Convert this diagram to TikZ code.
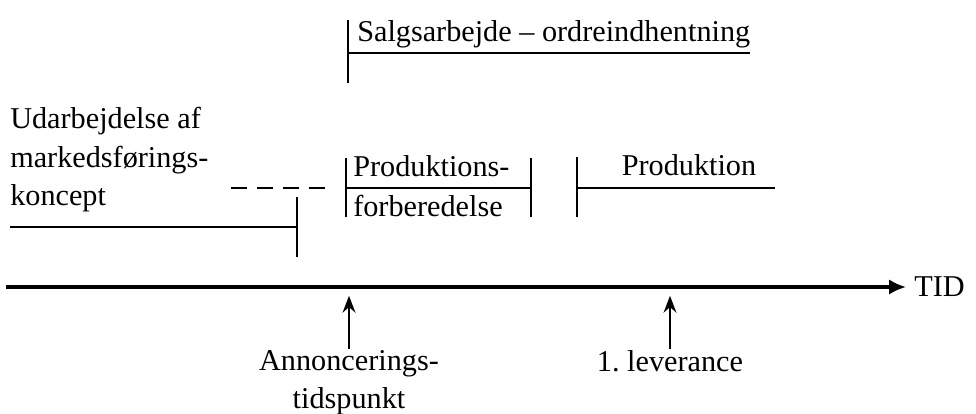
\documentclass[tikz,border=0pt]{standalone}
\usepackage{fontspec}
\setmainfont{Liberation Serif}
\usetikzlibrary{arrows.meta,positioning}
\begin{document}
\begin{tikzpicture}[x=0.025cm,y=-0.025cm,lbl/.style={inner sep=0pt,font=\fontsize{21.5}{27.5}\selectfont},bar/.style={line width=1.6pt},axis/.style={line width=2.2pt,-{Latex[length=4.2mm,width=3.8mm]}},up/.style={line width=1.4pt,-{Stealth[length=4.2mm,width=3.2mm]},shorten >=2.2mm}]
\useasboundingbox[fill=white] (0,0) rectangle (976,414);
\node[lbl,anchor=base west] (S) at (357,41) {Salgsarbejde -- ordreindhentning};
\node[lbl,anchor=north west,align=left] (U) at (10,107) {Udarbejdelse af\\markedsførings-\\koncept};
\node[lbl,anchor=north west,align=left] (P) at (353,155) {Produktions-\\[1pt]forberedelse};
\node[lbl,anchor=base] (Q) at (689,175) {Produktion};
\coordinate (T0) at (6,287); \coordinate (T1) at (906,287);
\node[lbl,right=2mm of T1] (TID) {TID};
\node[lbl,anchor=north,align=center] (A) at (349,350) {Annoncerings-\\tidspunkt};
\node[lbl,anchor=north] (L) at (670,350) {1.\ leverance};
\coordinate (S1) at (348,20); \coordinate (S2) at (348,83); \coordinate (S3) at (348,53); \coordinate (S4) at (750,53);
\coordinate (U1) at (10,227); \coordinate (U2) at (297,227); \coordinate (U3) at (297,197); \coordinate (U4) at (297,257);
\coordinate (D1) at (231,188); \coordinate (D2) at (326,188);
\coordinate (P1) at (346,158); \coordinate (P2) at (346,217); \coordinate (P3) at (531,158); \coordinate (P4) at (531,217);
\coordinate (Q1) at (577,157); \coordinate (Q2) at (577,217); \coordinate (Q3) at (775,188);
\draw[bar] (S1)--(S2); \draw[bar] (S3)--(S4);
\draw[bar] (U1)--(U2); \draw[bar] (U3)--(U4);
\draw[bar,dash pattern=on 11.4pt off 7.1pt] (D1)--(D2);
\draw[bar] (P1)--(P2); \draw[bar] (P1|-D1)--(P3|-D1); \draw[bar] (P3)--(P4);
\draw[bar] (Q1)--(Q2); \draw[bar] (Q1|-Q3)--(Q3);
\draw[axis] (T0)--(T1);
\foreach \n in {A,L}{\draw[up] ([yshift=1pt]\n.north) -- (\n.north|-T0);}
\end{tikzpicture}
\end{document}
